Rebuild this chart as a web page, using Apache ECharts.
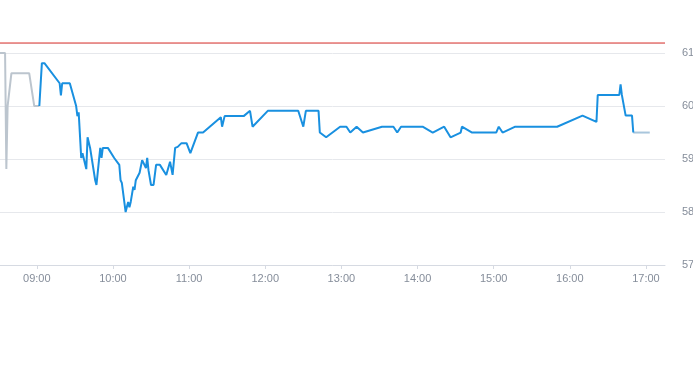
<!DOCTYPE html>
<html>
<head>
<meta charset="utf-8">
<script src="https://cdn.jsdelivr.net/npm/echarts@6/dist/echarts.min.js"></script>
<style>html,body{margin:0;padding:0;background:#fff}#c{width:693px;height:365px}</style>
</head>
<body>
<div id="c"></div>
<script>
const timeLabels = ['09:00','10:00','11:00','12:00','13:00','14:00','15:00','16:00','17:00'];
const limitPrice = 61.19;
const preTimes = ['08:31','08:35','08:36','08:37','08:40','08:54','08:58','09:02'];
const preValues = [61.0, 61.0, 58.81, 60.0, 60.62, 60.62, 60.0, 60.0];
const mainTimes = ['09:02','09:04','09:06','09:18','09:19','09:20','09:26','09:31','09:32','09:33','09:35','09:36','09:37','09:39','09:40','09:42','09:46','09:47','09:49','09:50','09:51','09:52','09:56','10:01','10:05','10:06','10:07','10:10','10:11','10:12','10:13','10:14','10:16','10:17','10:18','10:21','10:23','10:24','10:26','10:27','10:28','10:30','10:32','10:34','10:37','10:42','10:45','10:47','10:49','10:51','10:54','10:58','11:01','11:07','11:11','11:25','11:26','11:28','11:43','11:48','11:50','12:02','12:26','12:30','12:32','12:42','12:43','12:48','12:59','13:04','13:07','13:12','13:17','13:32','13:41','13:44','13:47','14:04','14:12','14:21','14:26','14:34','14:35','14:43','15:02','15:04','15:07','15:17','15:50','16:10','16:21','16:22','16:39','16:40','16:41','16:44','16:49','16:50'];
const mainValues = [60.0,60.81,60.81,60.43,60.2,60.43,60.43,60.0,59.81,59.88,59.02,59.11,59.08,58.81,59.41,59.21,58.6,58.51,58.98,59.21,59.02,59.21,59.21,59.02,58.89,58.6,58.55,58.0,58.1,58.19,58.09,58.19,58.48,58.42,58.6,58.74,58.98,58.98,58.83,59.02,58.79,58.51,58.51,58.89,58.89,58.7,58.95,58.7,59.21,59.23,59.3,59.3,59.11,59.5,59.5,59.79,59.61,59.81,59.81,59.91,59.61,59.91,59.91,59.61,59.91,59.91,59.5,59.41,59.61,59.61,59.5,59.61,59.5,59.61,59.61,59.5,59.61,59.61,59.5,59.61,59.41,59.5,59.61,59.5,59.5,59.61,59.5,59.61,59.61,59.82,59.7,60.21,60.21,60.41,60.21,59.82,59.82,59.5];
const postTimes = ['16:50','17:03'];
const postValues = [59.5, 59.5];

function toMin(s){const p=s.split(':');return (+p[0])*60+(+p[1]);}
function fmt(m){const h=Math.floor(m/60),mm=Math.round(m%60);return (h<10?'0':'')+h+':'+(mm<10?'0':'')+mm;}
function pairs(t,v){return t.map((x,i)=>[toMin(x),v[i]]);}
const tickVals = timeLabels.map(toMin);
const xMin = 511, xMax = 1035;
const red = '#e0352f';

const chart = echarts.init(document.getElementById('c'));
chart.setOption({
  animation:false,
  grid:{left:0,right:28,top:43,bottom:100,containLabel:false,outerBoundsMode:'none',show:false},
  xAxis:{
    type:'value', min:xMin, max:xMax,
    axisLine:{show:true,onZero:false,lineStyle:{color:'#d6dae2'}},
    axisTick:{show:true,length:4,customValues:tickVals,lineStyle:{color:'#d6dae2'}},
    axisLabel:{customValues:tickVals,formatter:v=>fmt(v),color:'#858d9a',fontSize:11,margin:8,fontFamily:'Liberation Sans, Arial, sans-serif'},
    splitLine:{show:false}
  },
  yAxis:{
    type:'value', position:'right', min:57, max:limitPrice, interval:1,
    axisLine:{show:false}, axisTick:{show:false},
    axisLabel:{showMaxLabel:false,color:'#858d9a',fontSize:11,margin:17,padding:[4,0,0,0],fontFamily:'Liberation Sans, Arial, sans-serif'},
    splitLine:{lineStyle:{color:'#e6e8ec'}}
  },
  series:[
    {type:'line',data:[[xMin,limitPrice],[xMax,limitPrice]],clip:false,showSymbol:false,silent:true,lineStyle:{color:red,width:1.2},itemStyle:{color:red},z:10},
    {type:'line',data:pairs(preTimes,preValues),showSymbol:false,lineStyle:{color:'#bcc5ce',width:2},itemStyle:{color:'#bcc5ce'},z:2},
    {type:'line',data:pairs(postTimes,postValues),showSymbol:false,lineStyle:{color:'#a9c6dc',width:2},itemStyle:{color:'#a9c6dc'},z:2},
    {type:'line',data:pairs(mainTimes,mainValues),showSymbol:false,lineStyle:{color:'#1990e0',width:2},itemStyle:{color:'#1990e0'},z:3}
  ]
});
</script>
</body>
</html>
